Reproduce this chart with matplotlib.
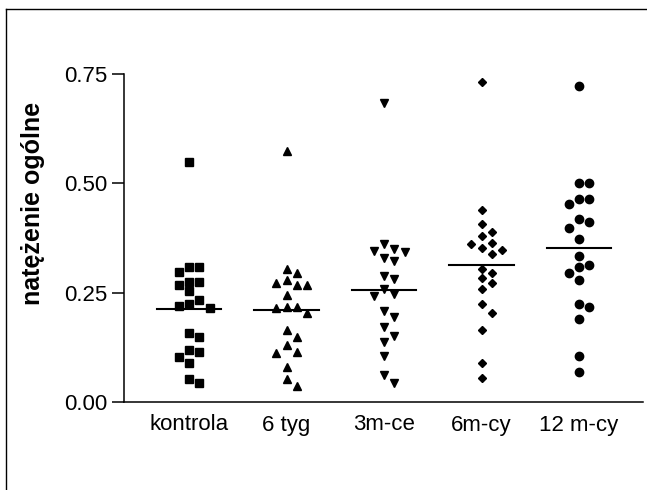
import matplotlib
matplotlib.use("Agg")
import matplotlib.pyplot as plt
import numpy as np

plt.rcParams['font.family'] = ['Liberation Sans', 'DejaVu Sans']

# data
groups = ['kontrola', '6 tyg', '3m-ce', '6m-cy', '12 m-cy']

kontrola = [0.548, 0.309, 0.298, 0.309, 0.274, 0.268, 0.274, 0.253, 0.233, 0.223,
            0.214, 0.219, 0.158, 0.148, 0.114, 0.118, 0.103, 0.089, 0.044, 0.053]
tyg6 = [0.573, 0.305, 0.294, 0.273, 0.268, 0.268, 0.280, 0.245, 0.218, 0.214,
        0.218, 0.203, 0.164, 0.148, 0.130, 0.111, 0.115, 0.079, 0.036, 0.053]
mce3 = [0.683, 0.344, 0.330, 0.349, 0.323, 0.361, 0.345, 0.281, 0.287, 0.247,
        0.243, 0.258, 0.209, 0.194, 0.171, 0.152, 0.137, 0.105, 0.061, 0.044]
mcy6 = [0.732, 0.438, 0.408, 0.388, 0.380, 0.364, 0.353, 0.361, 0.348, 0.339,
        0.304, 0.295, 0.283, 0.271, 0.258, 0.224, 0.203, 0.165, 0.089, 0.056]
mcy12 = [0.722, 0.501, 0.501, 0.464, 0.453, 0.464, 0.419, 0.412, 0.398, 0.372,
         0.334, 0.314, 0.308, 0.294, 0.279, 0.223, 0.218, 0.189, 0.105, 0.069]

series = [kontrola, tyg6, mce3, mcy6, mcy12]
markers = ['s', '^', 'v', 'D', 'o']
msizes = [6.0, 6.0, 6.0, 4.0, 6.0]


def swarm(vals, gap, step):
    # greedy column placement: points closer than gap (data units) go to the side
    order = np.argsort(vals)[::-1]
    slots = {}
    offs = np.zeros(len(vals))
    for i in order:
        v = vals[i]
        for k in [0, 1, -1, 2, -2, 3, -3]:
            if all(abs(v - u) >= gap for u in slots.get(k, [])):
                slots.setdefault(k, []).append(v)
                offs[i] = k * step
                break
    return offs


fig = plt.figure(figsize=(6.47, 4.9), dpi=100)

# outer frame: a bare axes whose left and top spines are the only edges in view
x0, y0 = 6/647, 1 - 9/490
bg = fig.add_axes([x0, -0.5, 2.0, y0 + 0.5])
bg.set_xticks([])
bg.set_yticks([])
bg.patch.set_visible(False)
bg.spines['right'].set_visible(False)
bg.spines['bottom'].set_visible(False)
for s in ['left', 'top']:
    bg.spines[s].set_linewidth(1.0)

ax = fig.add_axes([124/647, 1-402/490, 519/647, 328/490])

for i, vals in enumerate(series):
    vals = np.array(vals)
    dx = swarm(vals, 0.021, 0.107)
    ax.plot(i + dx, vals, linestyle='none', marker=markers[i], ms=msizes[i],
            color='black', mec='black')
    ax.plot([i - 0.33, i + 0.33], [vals.mean(), vals.mean()], color='black', lw=1.5)

ax.set_xlim(-0.667, 4.656)
ax.set_ylim(0, 0.75)
ax.set_yticks([0, 0.25, 0.5, 0.75])
ax.set_yticklabels(['0.00', '0.25', '0.50', '0.75'])
ax.set_xticks(range(5))
ax.set_xticklabels(groups)

for s in ['top', 'right']:
    ax.spines[s].set_visible(False)
for s in ['left', 'bottom']:
    ax.spines[s].set_linewidth(1.1)

ax.tick_params(axis='y', length=8.6, width=1.1, pad=3.5, labelsize=16)
ax.tick_params(axis='x', length=0, pad=9, labelsize=16)

ax.set_ylabel('natężenie ogólne', fontsize=18, fontweight='bold')
ax.yaxis.set_label_coords(-0.152, 0.604)

fig.savefig('out.png', dpi=100)
